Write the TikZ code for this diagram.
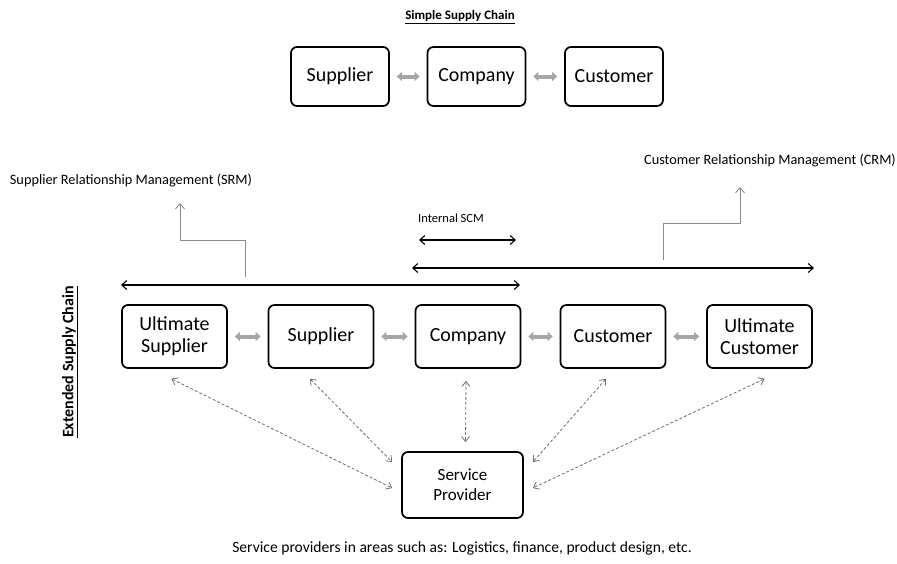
\documentclass[tikz,border=0pt]{standalone}
\usepackage{fontspec}
\setmainfont{Carlito}
\usetikzlibrary{arrows.meta, positioning, calc}
\definecolor{linkgray}{HTML}{a6a6a6}
\definecolor{elbowgray}{HTML}{8c8c8c}
\definecolor{dashgray}{HTML}{6e6e6e}

\tikzset{
  chainbox/.style={draw, line width=1.7pt, rounded corners=6pt, align=center,
    font=\fontsize{20}{22}\selectfont, inner sep=2pt},
  link/.style={linkgray, line width=4pt, {Triangle[length=5pt,width=9pt]}-{Triangle[length=5pt,width=9pt]},
    shorten <=7pt, shorten >=7pt},
  span/.style={line width=1.1pt, {Straight Barb[length=5pt,width=9pt]}-{Straight Barb[length=5pt,width=9pt]}},
  elbow/.style={elbowgray, line width=1pt, -{Straight Barb[length=5pt,width=9pt]}},
  service/.style={dashgray, dashed, dash pattern=on 3pt off 2pt, line width=0.8pt,
    {Straight Barb[length=5pt,width=8pt]}-{Straight Barb[length=5pt,width=8pt]}},
  small/.style={font=\fontsize{12.5}{14}\selectfont},
  mgmt/.style={font=\fontsize{14.3}{16}\selectfont},
  heading/.style={font=\fontsize{13}{15}\selectfont\bfseries}
}

\begin{document}
\begin{tikzpicture}[x=1pt, y=-1pt]
    \useasboundingbox (0,0) rectangle (897,563);

    % simple chain
    \node[heading] (simple) at (460,17) {\underline{Simple Supply Chain}};
    \node[chainbox, minimum width=98pt, minimum height=59pt] (ssup) at (340,76.5) {Supplier};
    \node[chainbox, minimum width=98pt, minimum height=59pt] (scom) at (476.5,76.5) {Company};
    \node[chainbox, minimum width=98pt, minimum height=59pt] (scus) at (614,76.5) {Customer};
    \draw[link] (ssup) -- (scom);
    \draw[link] (scom) -- (scus);

    % extended chain
    \node[heading, font=\fontsize{16}{18}\selectfont\bfseries, rotate=90] (extended) at (70,362)
      {\underline{Extended Supply Chain}};
    \foreach \name/\x/\txt in {usup/174.5/Ultimate\\Supplier, sup/321/Supplier, com/468/Company,
        cus/613/Customer, ucus/759.5/Ultimate\\Customer} {
      \node[chainbox, minimum width=105pt, minimum height=63pt] (\name) at (\x,336.5) {\txt};
    }
    \draw[link] (usup) -- (sup);
    \draw[link] (sup) -- (com);
    \draw[link] (com) -- (cus);
    \draw[link] (cus) -- (ucus);

    % spans over the chain
    \coordinate (srmL) at (121,285);
    \coordinate (srmR) at (520,285);
    \coordinate (crmL) at (412,268);
    \coordinate (crmR) at (814,268);
    \coordinate (intL) at (419,240);
    \coordinate (intR) at (516,240);
    \draw[span] (srmL) -- (srmR);
    \draw[span] (crmL) -- (crmR);
    \draw[span] (intL) -- (intR);
    \node[small] (intlabel) at (451,218) {Internal SCM};

    % SRM / CRM
    \node[mgmt] (srm) at (131,180) {Supplier Relationship Management (SRM)};
    \node[mgmt] (crm) at (770,160) {Customer Relationship Management (CRM)};
    \coordinate (srmfoot) at (245,277);
    \coordinate (crmfoot) at (663,260);
    \draw[elbow] (srmfoot) -- (245,240) -- (180,240) -- (180,203);
    \draw[elbow] (crmfoot) -- (663,223) -- (740,223) -- (740,187);

    % service provider
    \node[chainbox, font=\fontsize{17}{20}\selectfont, minimum width=121pt, minimum height=66pt] (prov)
      at (462.5,485) {Service\\Provider};
    \draw[service] ($(usup.south)+(-3,10)$) -- ($(prov.west)+(-9,3)$);
    \draw[service] ($(sup.south)+(-11,10)$) -- ($(prov.west)+(-9,-23)$);
    \draw[service] ($(com.south)+(-2,12)$) -- ($(prov.north)+(3,-9)$);
    \draw[service] ($(cus.south)+(-7,10)$) -- ($(prov.east)+(9,-23)$);
    \draw[service] ($(ucus.south)+(5,10)$) -- ($(prov.east)+(9,3)$);

    \node[font=\fontsize{15.6}{18}\selectfont] (caption) at (462,548)
      {Service providers in areas such as: Logistics, finance, product design, etc.};
  \end{tikzpicture}
\end{document}
